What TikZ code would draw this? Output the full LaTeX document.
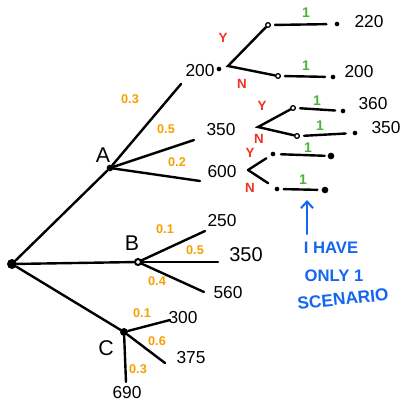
\documentclass[tikz,border=0pt]{standalone}
\usepackage{fontspec}
\setmainfont{Liberation Sans}
\usetikzlibrary{arrows.meta}
\definecolor{probc}{HTML}{F5A000}
\definecolor{redc}{HTML}{EE3322}
\definecolor{greenc}{HTML}{4CB23C}
\definecolor{bluec}{HTML}{1466F0}
\tikzset{
  bigdot/.style={circle,fill=black,inner sep=0pt,minimum size=#1},
  smdot/.style={circle,fill=black,inner sep=0pt,minimum size=3.5pt},
  odot/.style={circle,draw=black,line width=1pt,inner sep=0pt,minimum size=3.5pt},
  edge/.style={line width=1.8pt,line cap=round},
  val/.style={font=\fontsize{13}{13}\selectfont,inner sep=0pt},
  lettr/.style={font=\fontsize{16}{16}\selectfont,inner sep=0pt},
  prob/.style={text=probc,font=\bfseries\fontsize{9.5}{10}\selectfont,inner sep=0pt},
  yn/.style={text=redc,font=\bfseries\fontsize{10}{10}\selectfont,inner sep=0pt},
  one/.style={text=greenc,font=\bfseries\fontsize{10.5}{11}\selectfont,inner sep=0pt},
  note/.style={text=bluec,font=\bfseries\fontsize{12.5}{13}\selectfont,inner sep=0pt},
}
\begin{document}
\begin{tikzpicture}[x=0.75pt,y=-0.75pt]
\useasboundingbox (0,0) rectangle (409,406);
% main nodes
\node[bigdot=7.5pt] (root) at (12,264) {};
\node[bigdot=5pt] (A) at (110,168) {};
\node[odot,minimum size=4.5pt,line width=1.5pt] (B) at (138,262) {};
\node[bigdot=6pt] (C) at (124,332) {};
\node[lettr] (lA) at (103,155) {A};
\node[lettr] (lB) at (132,243) {B};
\node[lettr] (lC) at (106,348) {C};
\draw[edge] (root) -- (A);
\draw[edge] (root) -- (B);
\draw[edge] (root) -- (C);
% A branches
\coordinate (a1) at (181,84);
\coordinate (a2) at (194,140);
\coordinate (a3) at (200,181);
\draw[edge] (A) -- (a1);
\draw[edge] (A) -- (a2);
\draw[edge] (A) -- (a3);
\node[prob] (pa1) at (130,99) {0.3};
\node[prob] (pa2) at (166,129) {0.5};
\node[prob] (pa3) at (177,162) {0.2};
\node[val] (v1) at (200,71) {200};
\node[smdot] (d1) at (219,69) {};
\node[val] (v2) at (221,130) {350};
\node[val] (v3) at (222,172) {600};
% sub-branch of 200
\coordinate (s1) at (228,66);
\node[odot] (o11) at (268,25) {};
\node[odot] (o12) at (278,76) {};
\draw[edge] (o11) -- (s1) -- (o12);
\node[smdot] (e11) at (337,24) {};
\node[smdot] (e12) at (333,77) {};
\draw[edge,shorten <=3pt,shorten >=6pt] (o11.east) -- (e11);
\draw[edge,shorten <=3pt,shorten >=4pt] (o12.east) -- (e12);
\node[one] (g11) at (306,13) {1};
\node[one] (g12) at (306,66) {1};
\node[val] (t11) at (369,22) {220};
\node[val] (t12) at (359,72) {200};
\node[yn] (y1) at (223,38) {Y};
\node[yn] (n1) at (242,84) {N};
% sub-branch of 350
\coordinate (s2) at (258,127);
\node[odot] (o21) at (293,108) {};
\node[odot] (o22) at (297,136) {};
\draw[edge] (o21) -- (s2) -- (o22);
\node[smdot] (e21) at (343,111) {};
\node[smdot] (e22) at (355,133) {};
\draw[edge,shorten <=3pt,shorten >=4pt] (o21.east) -- (e21);
\draw[edge,shorten <=3pt,shorten >=5pt] (o22.east) -- (e22);
\node[one] (g21) at (317,101) {1};
\node[one] (g22) at (320,126) {1};
\node[val] (t21) at (373,104) {360};
\node[val] (t22) at (386,128) {350};
\node[yn] (y2) at (262,106) {Y};
\node[yn] (n2) at (259,139) {N};
% sub-branch of 600
\coordinate (s3) at (248,170);
\node[smdot] (o31) at (273,154) {};
\node[smdot] (o32) at (277,189) {};
\draw[edge,shorten >=4pt] (s3) -- (o31);
\draw[edge,shorten >=6pt] (s3) -- (o32);
\node[bigdot=5pt] (e31) at (331,156) {};
\node[bigdot=5pt] (e32) at (325,190) {};
\draw[edge,shorten <=4pt,shorten >=2pt] (o31) -- (e31);
\draw[edge,shorten <=3pt,shorten >=3pt] (o32) -- (e32);
\node[one] (g31) at (308,148) {1};
\node[one] (g32) at (303,180) {1};
\node[yn] (y3) at (250,153) {Y};
\node[yn] (n3) at (250,188) {N};
% B branches
\coordinate (b1) at (205,231);
\coordinate (b2) at (218,262);
\coordinate (b3) at (204,292);
\draw[edge] (B) -- (b1);
\draw[edge] (B) -- (b2);
\draw[edge] (B) -- (b3);
\node[prob] (pb1) at (165,229) {0.1};
\node[prob] (pb2) at (195,250) {0.5};
\node[prob] (pb3) at (157,281) {0.4};
\node[val] (vb1) at (222,221) {250};
\node[val,font=\fontsize{15}{15}\selectfont] (vb2) at (246,255) {350};
\node[val] (vb3) at (228,293) {560};
% C branches
\coordinate (c1) at (170,320);
\coordinate (c2) at (165,363);
\coordinate (c3) at (126,382);
\draw[edge] (C) -- (c1);
\draw[edge] (C) -- (c2);
\draw[edge] (C) -- (c3);
\node[prob] (pc1) at (142,313) {0.1};
\node[prob] (pc2) at (157,341) {0.6};
\node[prob] (pc3) at (138,369) {0.3};
\node[val] (vc1) at (183,318) {300};
\node[val] (vc2) at (191,358) {375};
\node[val] (vc3) at (127,393) {690};
% note
\coordinate (ar0) at (307,234);
\coordinate (ar1) at (307,200);
\draw[bluec,line width=1.5pt,line cap=round,-{Straight Barb[length=5pt,width=9pt]}] (ar0) -- (ar1);
\node[note] (n1l) at (331,248) {I HAVE};
\node[note] (n2l) at (334,276) {ONLY 1};
\node[note,rotate=6,font=\bfseries\fontsize{13}{13}\selectfont] (n3l) at (343,299) {SCENARIO};
\end{tikzpicture}
\end{document}
